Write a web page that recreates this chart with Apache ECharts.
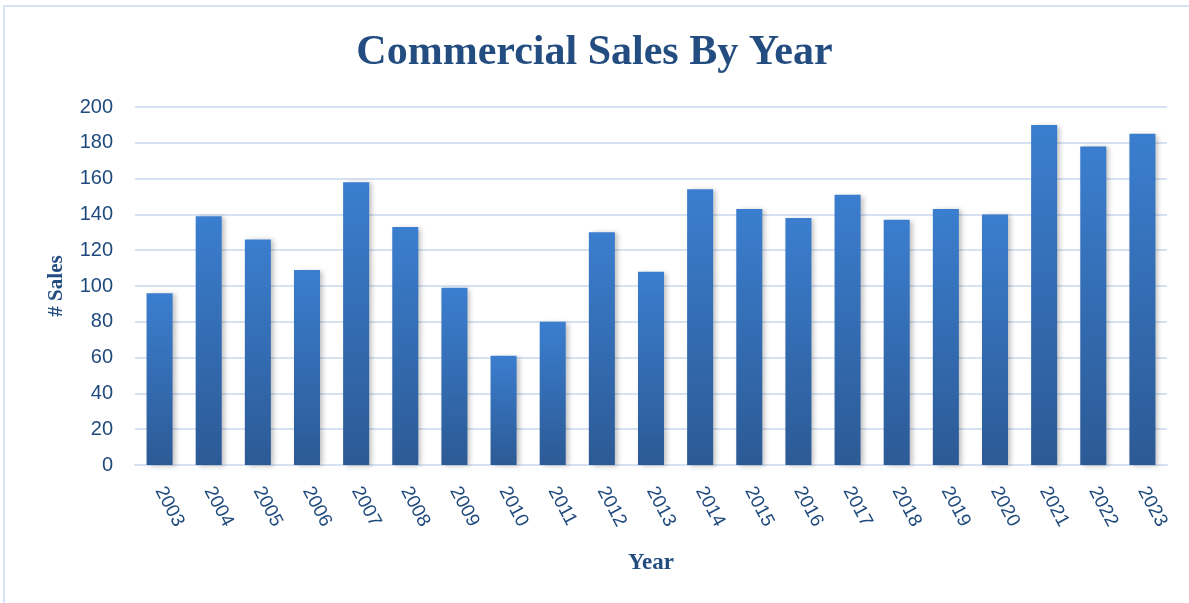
<!DOCTYPE html>
<html>
<head>
<meta charset="utf-8">
<script src="https://cdn.jsdelivr.net/npm/echarts@6/dist/echarts.min.js"></script>
<style>
html,body{margin:0;padding:0;background:#fff;}
#wrap{position:absolute;left:3px;top:5px;width:1200px;height:610px;border:2px solid #d6e3f3;box-sizing:border-box;}
#chart{position:absolute;left:0;top:0;width:1189px;height:603px;}
</style>
</head>
<body>
<div id="wrap"></div>
<div id="chart"></div>
<script>
const years = ['2003','2004','2005','2006','2007','2008','2009','2010','2011','2012','2013','2014','2015','2016','2017','2018','2019','2020','2021','2022','2023'];
const sales = [96,139,126,109,158,133,99,61,80,130,108,154,143,138,151,137,143,140,190,178,185];
const yTicks = [0,20,40,60,80,100,120,140,160,180,200];

const textColor = '#1f4a7d';
const chart = echarts.init(document.getElementById('chart'));
chart.setOption({
  animation:false,
  title:{
    text:'Commercial Sales By Year',
    left:'center', top:27,
    textStyle:{fontFamily:'Liberation Serif',fontWeight:'bold',fontSize:42,color:'#234d80'}
  },
  grid:{left:135,right:22,top:107,bottom:138},
  xAxis:{
    type:'category', data:years,
    name:'Year', nameLocation:'middle', nameGap:87,
    nameTextStyle:{fontFamily:'Liberation Serif',fontWeight:'bold',fontSize:23,color:'#234d80'},
    axisLine:{lineStyle:{color:'#d6e2f2',width:2}},
    axisTick:{show:false},
    axisLabel:{rotate:-62,fontFamily:'Liberation Sans',fontSize:19,color:textColor,margin:23,align:'left',verticalAlign:'middle'}
  },
  yAxis:{
    type:'value', min:yTicks[0], max:yTicks[yTicks.length-1], interval:20,
    name:'# Sales', nameLocation:'middle', nameGap:68, nameRotate:90,
    nameTextStyle:{fontFamily:'Liberation Serif',fontWeight:'bold',fontSize:21,color:'#234d80'},
    axisLine:{show:false}, axisTick:{show:false},
    axisLabel:{fontFamily:'Liberation Sans',fontSize:20,color:textColor,margin:22},
    splitLine:{lineStyle:{color:'#d6e2f2',width:2}}
  },
  series:[{
    type:'bar', data:sales, barWidth:'53%',
    itemStyle:{
      color:new echarts.graphic.LinearGradient(0,0,0,1,[
        {offset:0,color:'#3b7ecf'},
        {offset:1,color:'#2c5a95'}
      ]),
      shadowColor:'rgba(0,0,0,0.25)', shadowBlur:5, shadowOffsetX:3, shadowOffsetY:1
    }
  }]
});
</script>
</body>
</html>
